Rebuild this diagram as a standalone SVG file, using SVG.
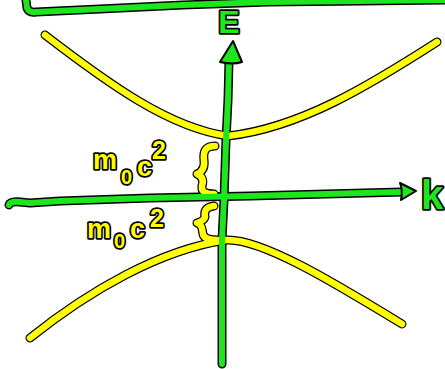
<svg xmlns="http://www.w3.org/2000/svg" width="445" height="369" viewBox="0 0 445 369">
<defs>
<style>
.o{fill:none;stroke:#000;stroke-width:9;stroke-linecap:round;stroke-linejoin:round}
.g{fill:none;stroke:#1ee61e;stroke-width:6;stroke-linecap:round;stroke-linejoin:round}
.y{fill:none;stroke:#ffff00;stroke-width:6.5;stroke-linecap:round;stroke-linejoin:round}
.gh{fill:#1ee61e;stroke:#000;stroke-width:2;stroke-linejoin:round}
.t{font-family:"Liberation Sans",Arial,sans-serif;font-weight:bold;stroke:#000;stroke-width:3.5;paint-order:stroke;stroke-linejoin:round}
.tg{fill:#1ee61e}
.ty{fill:#ffff00}
</style>
<path id="top" d="M26,0 L27,8 Q29,13 36,12 L100,9 L183,5 L267,2 L360,1 L445,0"/>
<path id="vax" d="M229,60 L228,100 L226,140 L224,200 L222,240 L222,364"/>
<path id="hax" d="M9,205 Q10,201 20,202 L30,203 L60,201 L90,200 L150,198 L250,196 L402,192"/>
<path id="hyp1" d="M45,35 C110,85 170,128 228,136 C300,128 370,85 437,42"/>
<path id="hyp2" d="M30,338 C90,290 160,250 226,240 C260,238 330,280 402,324"/>
<path id="br1" d="M215,146 C205,146 203,152 204,160 C205,168 202,172 197,174 C202,176 204,180 202,186 C201,192 206,194 214,194"/>
<path id="br2" d="M214,206 C205,207 204,212 205,217 C204,221 200,222 197,223 C203,225 202,230 203,234 C204,239 210,240 218,240"/>
</defs>
<rect width="445" height="369" fill="#fff"/>
<g id="outlines">
<use href="#top" class="o"/>
<use href="#hyp1" class="o"/>
<use href="#hyp2" class="o"/>
<use href="#br1" class="o"/>
<use href="#br2" class="o"/>
<use href="#vax" class="o"/>
<use href="#hax" class="o"/>
</g>
<g id="curves">
<use href="#top" class="g"/>
<use href="#hyp1" class="y"/>
<use href="#hyp2" class="y"/>
<use href="#br1" class="y"/>
<use href="#br2" class="y"/>
</g>
<g id="axes">
<use href="#vax" class="g"/>
<use href="#hax" class="g"/>
<path class="gh" d="M233,41 L242,62 Q233,65 220,62 Z"/>
<path class="gh" d="M416,191 L401,200 Q403,191 400,183 Z"/>
</g>
<g id="labels">
<text class="t tg" x="229" y="33" font-size="32" text-anchor="middle">E</text>
<text class="t tg" x="421" y="209" font-size="40">k</text>
<text class="t ty" font-size="27"><tspan x="93" y="169">m</tspan><tspan x="121" y="184" font-size="20">0</tspan><tspan x="137" y="176">c</tspan><tspan x="152" y="159" font-size="25">2</tspan></text>
<text class="t ty" font-size="27"><tspan x="87" y="238">m</tspan><tspan x="114" y="248" font-size="20">0</tspan><tspan x="130" y="238">c</tspan><tspan x="150" y="227" font-size="25">2</tspan></text>
</g>
</svg>
